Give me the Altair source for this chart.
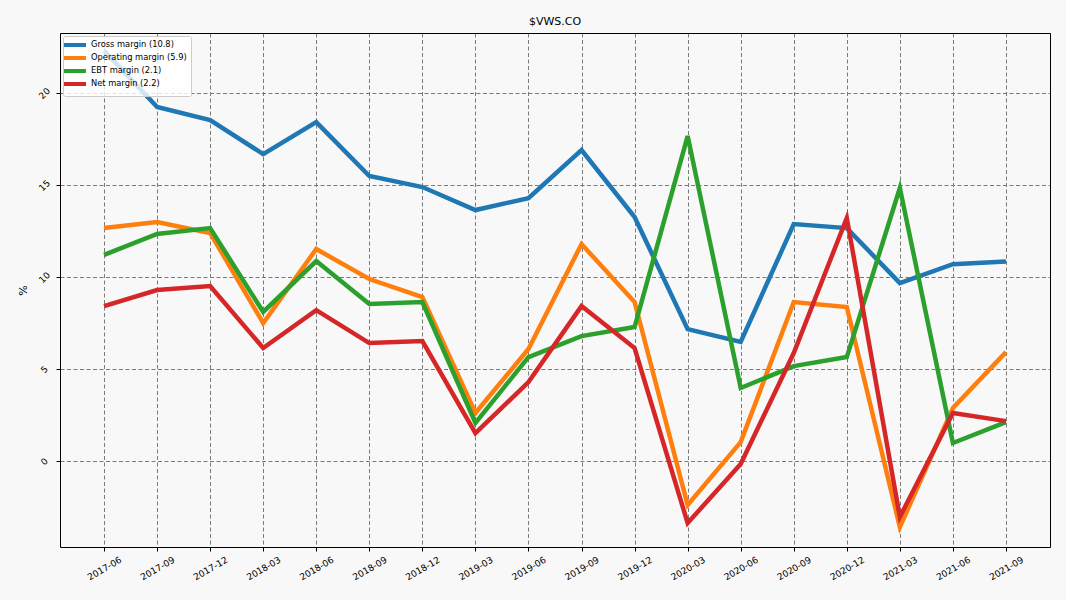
import altair as alt
import pandas as pd

quarters = ["2017-06", "2017-09", "2017-12", "2018-03", "2018-06", "2018-09",
            "2018-12", "2019-03", "2019-06", "2019-09", "2019-12", "2020-03",
            "2020-06", "2020-09", "2020-12", "2021-03", "2021-06", "2021-09"]

gross = [22.3, 19.24, 18.53, 16.68, 18.42, 15.49, 14.89, 13.64, 14.29, 16.9,
         13.26, 7.17, 6.47, 12.88, 12.66, 9.67, 10.7, 10.85]
operating = [12.66, 12.99, 12.39, 7.5, 11.52, 9.89, 8.91, 2.61, 6.09, 11.79,
             8.64, -2.39, 1.03, 8.64, 8.37, -3.59, 2.88, 5.92]
ebt = [11.2, 12.34, 12.66, 8.1, 10.87, 8.53, 8.64, 2.07, 5.65, 6.79,
       7.28, 17.66, 3.97, 5.16, 5.65, 14.84, 0.98, 2.12]
net = [8.42, 9.29, 9.51, 6.14, 8.2, 6.41, 6.52, 1.52, 4.29, 8.42,
       6.14, -3.37, -0.16, 5.87, 13.21, -3.04, 2.61, 2.17]

series_names = ["Gross margin (10.8)", "Operating margin (5.9)",
                "EBT margin (2.1)", "Net margin (2.2)"]
series_values = [gross, operating, ebt, net]
colors = ["#1f77b4", "#ff7f0e", "#2ca02c", "#d62728"]
y_ticks = [0, 5, 10, 15, 20]

rows = []
for name, vals in zip(series_names, series_values):
    for q, v in zip(quarters, vals):
        rows.append({"quarter": q, "value": v, "series": name})
df = pd.DataFrame(rows)

FONT = "DejaVu Sans"
x_scale = alt.Scale(type="point", padding=0.83)
y_scale = alt.Scale(domain=[-4.67, 23.26], nice=False, zero=False)
grid_kw = dict(grid=True, gridDash=[4, 2.5], gridColor="#7a7a7a", gridWidth=1,
               gridOpacity=1)

lines = alt.Chart(df).mark_line(strokeWidth=4.5, clip=True).encode(
    x=alt.X("quarter:O", sort=quarters, title=None, scale=x_scale,
            axis=alt.Axis(labelAngle=-30, tickColor="#000", tickSize=4,
                          labelFontSize=9, labelColor="#000", domainColor="#000",
                          labelAlign="center", labelBaseline="middle",
                          labelPadding=17, **grid_kw)),
    y=alt.Y("value:Q", title="%", scale=y_scale,
            axis=alt.Axis(values=y_ticks, labelAngle=-45, tickColor="#000",
                          tickSize=4, labelFontSize=9, labelColor="#000",
                          domainColor="#000", titleFontSize=11,
                          titleFontWeight="normal", titleColor="#000",
                          titlePadding=9, labelAlign="center",
                          labelBaseline="middle", labelPadding=12, **grid_kw)),
    color=alt.Color("series:N", sort=series_names,
                    scale=alt.Scale(domain=series_names, range=colors),
                    legend=alt.Legend(title=None, orient="top-left",
                                      offset=3, symbolType="M-3.67,0H3.67",
                                      symbolStrokeWidth=4, symbolSize=36,
                                      symbolOffset=3, labelOffset=11,
                                      labelFontSize=8.3, labelColor="#000",
                                      fillColor="rgba(255,255,255,0.8)",
                                      strokeColor="#cccccc", padding=4,
                                      rowPadding=-3, cornerRadius=2)),
)

frame = alt.Chart(df).mark_line(opacity=0).encode(
    x=alt.X("quarter:O", sort=quarters, title=None, scale=x_scale,
            axis=alt.Axis(orient="top", labels=False, ticks=False, grid=False,
                          domainColor="#000")),
    y=alt.Y("value:Q", title=None, scale=y_scale,
            axis=alt.Axis(orient="right", labels=False, ticks=False, grid=False,
                          domainColor="#000")),
)

chart = alt.layer(lines, frame).resolve_axis(
    x="independent", y="independent"
).properties(
    width=990, height=514,
    title=alt.TitleParams("$VWS.CO", fontSize=11, fontWeight="normal",
                          font=FONT, color="#000", offset=6),
    autosize=alt.AutoSizeParams(type="none"),
    padding={"left": 60, "top": 33, "right": 16, "bottom": 53},
    background="#f8f8f8",
).configure_view(
    stroke=None, fill="#f8f8f8"
).configure(
    font=FONT
)

chart.save("out.html", embed_options={"renderer": "svg", "actions": False})
